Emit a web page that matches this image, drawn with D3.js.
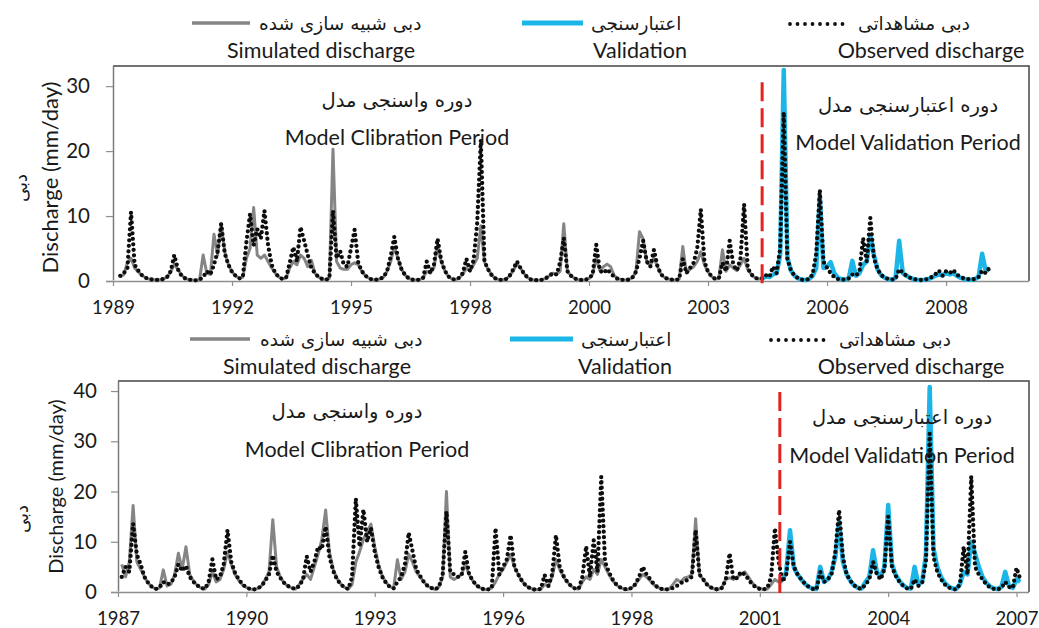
<!DOCTYPE html>
<html>
<head>
<meta charset="utf-8">
<script src="https://cdn.jsdelivr.net/npm/d3@7/dist/d3.min.js"></script>
<style>
  body { margin: 0; background: #fff; }
  svg { display: block; }
  text { font-family: Lato, "Noto Sans", sans-serif; fill: #1a1a1a; }
  .fa { font-family: "DejaVu Sans", sans-serif; }
</style>
</head>
<body>
<svg id="chart" width="1039" height="628"></svg>
<script>
// ---- top panel: monthly values, month index counted from the axis start ----
const topXLabels = ['1989', '1992', '1995', '1998', '2000', '2003', '2006', '2008'];
const topYTicks = [0, 10, 20, 30];
const topObsStart = 2;
const topObserved = [
  0.8, 1.2, 2.0, 10.6, 2.5, 1.6, 0.9, 0.5, 0.3, 0.2, 0.15, 0.2,
  0.3, 0.6, 1.5, 4.0, 1.8, 0.8, 0.4, 0.2, 0.15, 0.1, 0.2, 0.6,
  1.5, 1.0, 2.5, 4.5, 8.8, 4.2, 2.5, 1.4, 0.8, 0.4, 0.6, 6.0,
  10.3, 5.5, 8.0, 6.5, 10.8, 5.5, 2.5, 1.2, 0.6, 0.3, 0.5, 2.8,
  5.2, 3.0, 8.3, 6.2, 4.0, 2.0, 1.2, 0.6, 0.3, 0.2, 0.4, 10.8,
  3.5, 4.6, 2.5, 2.2, 5.0, 7.9, 2.8, 1.5, 0.8, 0.4, 0.2, 0.2,
  0.3, 0.6, 1.5, 3.8, 6.8, 3.5, 1.8, 0.9, 0.4, 0.2, 0.15, 0.2,
  0.5, 3.0, 1.2, 2.5, 6.5, 3.2, 1.6, 0.7, 0.3, 0.2, 0.5, 1.2,
  3.4, 1.5, 3.2, 9.0, 21.7, 3.0, 1.8, 0.9, 0.4, 0.2, 0.15, 0.3,
  0.8, 1.8, 3.0, 2.0, 1.1, 0.5, 0.2, 0.15, 0.1, 0.2, 0.4, 0.8,
  1.2, 1.0, 2.9, 6.6, 1.5, 0.8, 0.4, 0.2, 0.15, 0.2, 0.4, 1.0,
  5.6, 1.6, 1.2, 1.8, 1.2, 0.6, 0.3, 0.2, 0.15, 0.2, 0.5, 1.4,
  3.5, 6.2, 3.0, 2.2, 4.8, 2.2, 1.0, 0.5, 0.3, 0.2, 0.15, 0.3,
  3.4, 1.2, 2.0, 2.8, 5.0, 11.0, 3.0, 1.4, 0.7, 0.3, 0.4, 2.8,
  1.5, 6.2, 2.5, 1.6, 3.5, 11.8, 2.0, 1.0, 0.5, 0.3, 0.4, 0.9,
  0.6, 2.2, 1.2, 5.0, 26.0, 3.4, 1.6, 0.8, 0.4, 0.2, 0.15, 0.3,
  1.0, 4.2, 14.0, 3.0, 2.0, 1.2, 0.6, 0.3, 0.2, 0.2, 0.4, 1.0,
  0.8, 1.5, 6.6, 3.0, 9.7, 3.5, 1.8, 0.9, 0.5, 0.3, 0.2, 0.3,
  1.8, 1.3, 0.8, 0.5, 0.3, 0.2, 0.15, 0.2, 0.3, 0.6, 1.0, 1.6,
  0.8, 1.5, 1.2, 1.7, 1.0, 0.6, 0.4, 0.3, 0.2, 0.3, 0.6, 1.6,
  1.2, 2.0
];
const topSimStart = 2;
const topSimulated = [
  0.6, 1.0, 2.8, 3.5, 2.0, 1.4, 0.9, 0.5, 0.3, 0.2, 0.2, 0.2,
  0.3, 0.6, 1.4, 2.6, 1.8, 0.9, 0.4, 0.2, 0.15, 0.1, 0.2, 4.0,
  1.2, 1.0, 7.2, 4.0, 8.8, 4.5, 2.5, 1.4, 0.8, 0.4, 0.6, 3.5,
  5.0, 11.3, 4.0, 3.5, 4.0, 3.0, 2.0, 1.2, 0.6, 0.3, 0.5, 2.0,
  3.0, 2.5, 4.0, 3.5, 2.2, 3.2, 1.2, 0.6, 0.3, 0.2, 0.4, 20.3,
  3.0, 2.0, 1.8, 1.8, 2.5, 2.8, 2.5, 1.5, 0.8, 0.4, 0.2, 0.2,
  0.3, 0.6, 1.5, 3.0, 5.2, 3.5, 1.8, 0.9, 0.4, 0.2, 0.15, 0.2,
  0.5, 1.5, 1.2, 2.0, 5.5, 3.0, 1.6, 0.7, 0.3, 0.2, 0.5, 1.0,
  2.0, 1.5, 2.5, 3.5, 8.5, 3.0, 1.8, 0.9, 0.4, 0.2, 0.15, 0.3,
  0.8, 1.6, 2.6, 2.0, 1.1, 0.5, 0.2, 0.15, 0.1, 0.2, 0.4, 0.8,
  1.2, 1.0, 1.5, 8.8, 1.5, 0.8, 0.4, 0.2, 0.15, 0.2, 0.4, 1.0,
  3.5, 1.6, 2.2, 2.6, 2.2, 0.8, 0.4, 0.2, 0.15, 0.2, 0.5, 1.4,
  7.6, 6.5, 3.0, 2.4, 3.5, 2.2, 1.0, 0.5, 0.3, 0.2, 0.15, 0.3,
  5.3, 1.2, 1.8, 2.2, 3.0, 4.5, 2.5, 1.4, 0.7, 0.3, 0.4, 4.8,
  1.5, 2.5, 2.0, 1.6, 2.5, 3.5, 1.8, 1.0, 0.5, 0.3, 0.4
];
const topValStart = 180;
const topValidation = [
  0.4, 0.7, 0.6, 1.0, 1.2, 4.0, 32.5, 3.6, 1.6, 0.8, 0.4, 0.2,
  0.15, 0.3, 0.8, 2.0, 13.0, 2.0, 2.2, 2.9, 1.2, 0.5, 0.3, 0.2,
  0.4, 3.1, 0.8, 1.2, 2.5, 3.0, 7.0, 4.0, 1.8, 0.9, 0.5, 0.3,
  0.2, 0.5, 6.2, 1.2, 0.8, 0.5, 0.3, 0.2, 0.15, 0.2, 0.3, 0.5,
  0.8, 1.0, 0.9, 1.2, 1.0, 1.2, 0.8, 0.5, 0.3, 0.2, 0.2, 0.3,
  0.6, 4.2, 1.5, 2.0
];
const topSplit = 180;

// ---- bottom panel ----
const botXLabels = ['1987', '1990', '1993', '1996', '1998', '2001', '2004', '2007'];
const botYTicks = [0, 10, 20, 30, 40];
const botObsStart = 1;
const botObserved = [
  3.0, 5.0, 4.0, 13.6, 7.4, 5.5, 3.0, 1.8, 1.0, 0.6, 0.9, 2.0,
  1.5, 1.8, 3.0, 5.5, 4.2, 5.2, 3.0, 2.0, 1.3, 0.8, 0.6, 2.0,
  6.5, 2.5, 3.0, 5.5, 12.3, 6.0, 3.8, 2.5, 1.5, 0.9, 0.6, 0.5,
  0.7, 1.2, 2.2, 3.5, 7.3, 4.0, 2.8, 1.8, 1.2, 0.8, 0.6, 1.2,
  2.5, 7.1, 4.0, 6.0, 9.0, 8.5, 13.0, 7.0, 4.2, 2.5, 1.5, 0.9,
  0.6, 3.0, 18.6, 9.0, 16.4, 10.0, 12.7, 8.0, 5.0, 3.0, 1.8, 1.0,
  0.7, 2.0, 3.0, 5.5, 11.8, 8.2, 4.5, 3.2, 2.0, 1.2, 0.8, 0.5,
  1.0, 3.5, 16.0, 4.0, 3.5, 3.0, 3.2, 8.0, 3.5, 2.2, 1.3, 0.8,
  0.5, 0.5, 0.8, 12.7, 3.5, 5.0, 6.5, 11.3, 5.0, 3.5, 2.2, 1.3,
  0.8, 0.5, 0.5, 0.6, 3.4, 1.2, 3.5, 11.3, 5.0, 3.2, 2.0, 1.2,
  0.7, 0.6, 3.0, 9.1, 3.0, 10.3, 4.0, 22.9, 6.0, 4.0, 2.5, 1.5,
  0.9, 0.6, 0.5, 0.8, 1.5, 3.0, 5.0, 3.5, 2.5, 1.5, 0.9, 0.6,
  0.5, 0.6, 0.8, 1.2, 1.8, 2.0, 2.5, 3.0, 12.3, 3.5, 2.5, 1.5,
  0.9, 0.6, 0.5, 0.8, 2.5, 7.7, 2.5, 2.8, 4.0, 3.5, 2.5, 1.5,
  0.9, 0.6, 0.5, 0.8, 3.0, 12.7, 6.0, 2.0, 3.5, 10.0, 5.0, 3.5,
  2.5, 1.6, 1.0, 0.6, 0.5, 4.0, 2.0, 2.5, 3.5, 8.0, 16.3, 7.0,
  3.5, 2.2, 1.3, 0.8, 0.6, 1.5, 2.5, 6.0, 3.5, 2.5, 4.5, 15.0,
  5.0, 3.2, 2.0, 1.2, 0.7, 0.6, 2.5, 1.2, 1.8, 6.0, 31.5, 7.0,
  4.0, 2.5, 1.5, 0.9, 0.6, 0.5, 1.5, 9.0, 3.5, 23.0, 5.0, 3.5,
  2.5, 1.5, 0.9, 0.6, 0.5, 0.8, 2.0, 1.0, 0.8, 4.8, 2.5
];
const botSimStart = 1;
const botSimulated = [
  5.5, 3.0, 6.0, 17.2, 6.0, 4.5, 3.0, 1.8, 1.0, 0.6, 0.8, 4.4,
  1.2, 1.5, 3.5, 7.7, 4.5, 9.0, 3.5, 2.2, 1.3, 0.8, 0.6, 1.5,
  4.0, 2.0, 2.5, 4.5, 8.0, 5.5, 3.5, 2.3, 1.4, 0.9, 0.6, 0.5,
  0.7, 1.2, 2.5, 4.0, 14.4, 5.0, 3.0, 1.8, 1.2, 0.8, 0.6, 1.5,
  2.5, 3.5, 2.5, 5.0, 7.5, 10.5, 16.3, 8.0, 4.5, 2.7, 1.6, 0.9,
  0.6, 1.5, 6.0, 8.0, 10.5, 12.0, 13.5, 9.0, 5.5, 3.2, 1.9, 1.1,
  0.7, 6.4, 2.5, 4.0, 7.5, 6.0, 4.0, 3.0, 2.0, 1.2, 0.8, 0.5,
  1.0, 3.0, 20.0, 3.0, 2.5, 3.0, 3.5, 5.5, 3.5, 2.2, 1.3, 0.8,
  0.5, 0.5, 0.8, 2.0, 3.5, 4.5, 6.0, 7.5, 5.0, 3.5, 2.2, 1.3,
  0.8, 0.5, 0.5, 0.6, 1.5, 1.2, 3.0, 6.5, 4.5, 3.0, 2.0, 1.2,
  0.7, 0.6, 2.0, 3.0, 2.5, 4.5, 3.5, 6.5, 5.0, 3.5, 2.3, 1.4,
  0.9, 0.6, 0.5, 0.8, 1.5, 2.5, 3.5, 3.0, 2.2, 1.4, 0.9, 0.6,
  0.5, 0.6, 1.5, 2.5, 2.0, 2.8, 3.0, 3.5, 14.6, 3.5, 2.5, 1.5,
  0.9, 0.6, 0.5, 1.0, 2.5, 2.8, 2.5, 3.0, 3.5, 4.0, 3.0, 1.8,
  1.1, 0.7, 0.5, 0.6, 1.5, 2.5, 2.0, 2.0
];
const botValStart = 175;
const botValidation = [
  2.0, 2.5, 4.0, 12.3, 5.0, 3.5, 2.5, 1.6, 1.0, 0.7, 0.6, 5.0,
  2.0, 2.5, 4.0, 7.0, 14.0, 6.0, 3.5, 2.2, 1.3, 0.8, 0.7, 2.0,
  3.0, 8.3, 4.0, 3.0, 5.0, 17.3, 5.5, 3.4, 2.2, 1.3, 0.8, 0.7,
  5.0, 1.5, 2.0, 7.5, 40.8, 8.7, 5.0, 3.0, 1.8, 1.1, 0.7, 0.6,
  1.5, 4.0, 3.5, 10.0, 7.7, 5.0, 3.0, 1.8, 1.1, 0.7, 0.6, 1.0,
  4.0, 1.2, 0.8, 2.5, 2.0
];
const botSplit = 175.3;

const svg = d3.select('#chart');
const GREY = '#858585', CYAN = '#1cb5e8', RED = '#e32322';

function drawPanel(p) {
  const x = d3.scaleLinear().domain([0, p.xMax]).range([p.left, p.right]);
  const y = d3.scaleLinear().domain([0, p.yMax]).range([p.bottom, p.top]);
  const g = svg.append('g');

  // frame (top/right darker like the original plot area border)
  g.append('path')
    .attr('d', `M${p.left},${p.top}H${p.right}V${p.bottom}`)
    .attr('fill', 'none').attr('stroke', '#444').attr('stroke-width', 1.5);

  const xAxis = d3.axisBottom(x)
    .tickValues(p.xLabels.map((d, i) => i * p.xStep))
    .tickFormat((d, i) => p.xLabels[i])
    .tickSize(5).tickSizeOuter(0).tickPadding(15);
  const gx = g.append('g').attr('transform', `translate(0,${p.bottom})`).call(xAxis);
  gx.select('.domain').attr('stroke', '#8f8f8f').attr('stroke-width', 1.5)
    .attr('d', `M${p.left - 7},0.5H${p.right}`);
  gx.selectAll('.tick line').attr('stroke', '#8f8f8f').attr('stroke-width', 1.2);
  gx.selectAll('.tick text').attr('font-size', p.tickFont).attr('fill', '#1a1a1a')
    .style('font-family', 'Lato, "Noto Sans", sans-serif');

  const yAxis = d3.axisLeft(y).tickValues(p.yTicks).tickSize(7).tickSizeOuter(0).tickPadding(p.yPad);
  const gy = g.append('g').attr('transform', `translate(${p.left},0)`).call(yAxis);
  gy.select('.domain').attr('stroke', '#7a7a7a').attr('stroke-width', 1.5)
    .attr('d', `M0.5,${p.bottom - 0.5}V${p.top}`);
  gy.selectAll('.tick line').attr('stroke', '#8f8f8f').attr('stroke-width', 1.2);
  gy.selectAll('.tick text').attr('font-size', p.tickFont + 2).attr('fill', '#1a1a1a')
    .style('font-family', 'Lato, "Noto Sans", sans-serif');

  const line = start => d3.line().x((d, i) => x(start + i)).y(d => y(d));

  g.append('path').datum(p.sim).attr('d', line(p.simStart))
    .attr('fill', 'none').attr('stroke', GREY).attr('stroke-width', 3).attr('stroke-linejoin', 'round');
  g.append('path').datum(p.val).attr('d', line(p.valStart))
    .attr('fill', 'none').attr('stroke', CYAN).attr('stroke-width', 4.5).attr('stroke-linejoin', 'round');
  g.append('path').datum(p.obs).attr('d', line(p.obsStart))
    .attr('fill', 'none').attr('stroke', '#0d0d0d').attr('stroke-width', 4.3)
    .attr('stroke-linecap', 'round').attr('stroke-dasharray', '0 5.5');

  // calibration / validation split
  g.append('line')
    .attr('x1', x(p.split)).attr('x2', x(p.split))
    .attr('y1', y(p.splitTop)).attr('y2', p.bottom + 4)
    .attr('stroke', RED).attr('stroke-width', 3).attr('stroke-dasharray', '19 7');

  // y title
  g.append('text')
    .attr('transform', `translate(${p.titleX},${(p.top + p.bottom) / 2 + p.titleDy}) rotate(-90)`)
    .attr('text-anchor', 'middle').attr('font-size', p.titleFont)
    .text('Discharge (mm/day)');
  g.append('text').attr('class', 'fa')
    .attr('transform', `translate(${p.faTitleX},${p.faTitleY}) rotate(-90)`)
    .attr('text-anchor', 'middle').attr('font-size', 18)
    .text('دبی');

  // period notes
  const note = (cx, by, txt, fa, size, anchor) => g.append('text').attr('class', fa ? 'fa' : null)
    .attr('x', cx).attr('y', by).attr('text-anchor', anchor || 'middle').attr('font-size', size).text(txt);
  note(p.calX, p.noteY1, 'دوره واسنجی مدل', true, 19.5);
  note(p.calX2, p.noteY2, 'Model Clibration Period', false, 21.5);
  note(p.valX, p.noteY1 + p.valDy, 'دوره اعتبارسنجی مدل', true, 19.5);
  note(p.valX, p.noteY2 + p.valDy, 'Model Validation Period', false, 21.5);

  // legend: line sample, Persian name on its right, English name below
  const L = p.legend;
  g.append('line').attr('x1', L.simX[0]).attr('x2', L.simX[1]).attr('y1', L.y).attr('y2', L.y)
    .attr('stroke', GREY).attr('stroke-width', 3.5);
  g.append('line').attr('x1', L.valX[0]).attr('x2', L.valX[1]).attr('y1', L.y).attr('y2', L.y)
    .attr('stroke', CYAN).attr('stroke-width', 5);
  g.append('line').attr('x1', L.obsX[0]).attr('x2', L.obsX[1]).attr('y1', L.y + 1).attr('y2', L.y + 1)
    .attr('stroke', '#111').attr('stroke-width', 3.8).attr('stroke-linecap', 'round').attr('stroke-dasharray', '0 7.5');
  const legTexts = [
    [L.faX[0], 'دبی شبیه سازی شده', L.enC[0], 'Simulated discharge'],
    [L.faX[1], 'اعتبارسنجی', L.enC[1], 'Validation'],
    [L.faX[2], 'دبی مشاهداتی', L.enC[2], 'Observed discharge']
  ];
  legTexts.forEach(t => {
    note(t[0], L.y + 7, t[1], true, 18.5, 'start');
    note(t[2], L.enY, t[3], false, 21.5);
  });
}

drawPanel({
  left: 113, right: 1029, top: 66, bottom: 281,
  xMax: 254, xStep: 33, xLabels: topXLabels, yMax: 33.1, yTicks: topYTicks,
  obs: topObserved, obsStart: topObsStart, sim: topSimulated, simStart: topSimStart,
  val: topValidation, valStart: topValStart, split: topSplit, splitTop: 30.6,
  tickFont: 18.5, yPad: 16, titleX: 58, titleDy: 4, titleFont: 22, faTitleX: 27, faTitleY: 188,
  calX: 397, calX2: 397, noteY1: 107, noteY2: 145, valX: 908, valDy: 5,
  legend: { y: 23, enY: 58, simX: [192, 250], valX: [522, 583], obsX: [790, 845],
            faX: [259, 591, 858], enC: [321, 640, 931] }
});

drawPanel({
  left: 118, right: 1029, top: 381, bottom: 592,
  xMax: 241.3, xStep: 34, xLabels: botXLabels, yMax: 42, yTicks: botYTicks,
  obs: botObserved, obsStart: botObsStart, sim: botSimulated, simStart: botSimStart,
  val: botValidation, valStart: botValStart, split: botSplit, splitTop: 39.8,
  tickFont: 18.5, yPad: 14, titleX: 63, titleDy: 0, titleFont: 20, faTitleX: 28, faTitleY: 519,
  calX: 347, calX2: 357, noteY1: 418, noteY2: 457, valX: 902, valDy: 6,
  legend: { y: 339, enY: 374, simX: [190, 250], valX: [510, 573], obsX: [771, 827],
            faX: [260, 581, 839], enC: [317, 625, 911] }
});
</script>
</body>
</html>
